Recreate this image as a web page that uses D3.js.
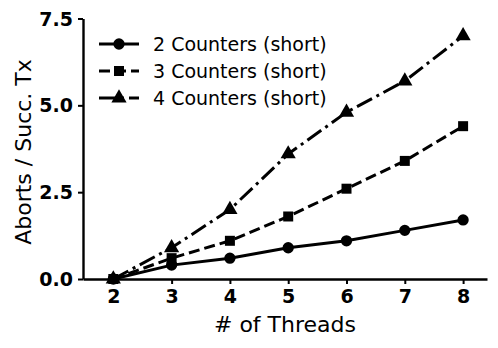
<!DOCTYPE html>
<html>
<head>
<meta charset="utf-8">
<script src="https://cdn.jsdelivr.net/npm/d3@7"></script>
<style>
  body { margin: 0; background: #fff; }
  text { font-family: "DejaVu Sans", sans-serif; }
</style>
</head>
<body>
<script>
var threads = [2, 3, 4, 5, 6, 7, 8];
var counters2 = [0, 0.4, 0.6, 0.9, 1.1, 1.4, 1.7];
var counters3 = [0, 0.6, 1.1, 1.8, 2.6, 3.4, 4.4];
var counters4 = [0, 0.9, 2.0, 3.6, 4.8, 5.7, 7.0];
var seriesNames = ["2 Counters (short)", "3 Counters (short)", "4 Counters (short)"];
var yTicks = [0, 2.5, 5.0, 7.5];

var w = 498, h = 348;
var svg = d3.select("body").append("svg")
    .attr("width", w)
    .attr("height", h);

// scales
var xScale = d3.scaleLinear()
    .domain([1.48, 8.41])
    .range([83, 487]);
var yScale = d3.scaleLinear()
    .domain([0, 7.5])
    .range([279, 18.5]);

// axes
var xAxis = d3.axisBottom(xScale)
    .tickValues(threads)
    .tickFormat(d3.format("d"))
    .tickSizeInner(5)
    .tickSizeOuter(0)
    .tickPadding(6);
var yAxis = d3.axisLeft(yScale)
    .tickValues(yTicks)
    .tickFormat(d3.format(".1f"))
    .tickSizeInner(5)
    .tickSizeOuter(0)
    .tickPadding(5);

var gx = svg.append("g")
    .attr("transform", "translate(0," + yScale(0) + ")")
    .call(xAxis);
var gy = svg.append("g")
    .attr("transform", "translate(" + xScale.range()[0] + ",0)")
    .call(yAxis);

[gx, gy].forEach(function (g) {
    g.selectAll("path.domain").attr("stroke", "#000").attr("stroke-width", 2.4);
    g.selectAll(".tick line").attr("stroke", "#000").attr("stroke-width", 2);
    g.selectAll(".tick text")
        .attr("fill", "#000")
        .style("font-family", "'DejaVu Sans', sans-serif")
        .style("font-size", "19px")
        .style("font-weight", "bold");
});
gy.selectAll(".tick text").attr("dy", "0.35em");

// axis labels
svg.append("text")
    .attr("x", 285)
    .attr("y", 332)
    .attr("text-anchor", "middle")
    .style("font-size", "22px")
    .text("# of Threads");

svg.append("text")
    .attr("transform", "translate(31,152) rotate(-90)")
    .attr("text-anchor", "middle")
    .style("font-size", "22px")
    .text("Aborts / Succ. Tx");

// series
var series = [
    { name: seriesNames[0], values: counters2, dash: null, marker: d3.symbolCircle, size: 100 },
    { name: seriesNames[1], values: counters3, dash: "11,5", marker: d3.symbolSquare, size: 100 },
    { name: seriesNames[2], values: counters4, dash: "17,5,3,5", marker: d3.symbolTriangle, size: 100 }
];

var line = d3.line()
    .x(function (d) { return xScale(d.x); })
    .y(function (d) { return yScale(d.y); });

series.forEach(function (s) {
    var pts = threads.map(function (t, i) { return { x: t, y: s.values[i] }; });
    svg.append("path")
        .datum(pts)
        .attr("fill", "none")
        .attr("stroke", "#000")
        .attr("stroke-width", 3)
        .attr("stroke-dasharray", s.dash)
        .attr("d", line);
    svg.selectAll(null)
        .data(pts)
        .enter()
        .append("path")
        .attr("d", d3.symbol().type(s.marker).size(s.size))
        .attr("transform", function (d) {
            return "translate(" + xScale(d.x) + "," + yScale(d.y) + ")";
        })
        .attr("fill", "#000");
});

// legend
var legend = svg.append("g");
series.forEach(function (s, i) {
    var y = 44 + i * 27;
    legend.append("line")
        .attr("x1", 99).attr("x2", 139)
        .attr("y1", y).attr("y2", y)
        .attr("stroke", "#000")
        .attr("stroke-width", 3)
        .attr("stroke-dasharray", s.dash);
    legend.append("path")
        .attr("d", d3.symbol().type(s.marker).size(s.size))
        .attr("transform", "translate(119," + y + ")")
        .attr("fill", "#000");
    legend.append("text")
        .attr("x", 153)
        .attr("y", y)
        .attr("dy", "0.35em")
        .style("font-size", "19px")
        .text(s.name);
});
</script>
</body>
</html>
